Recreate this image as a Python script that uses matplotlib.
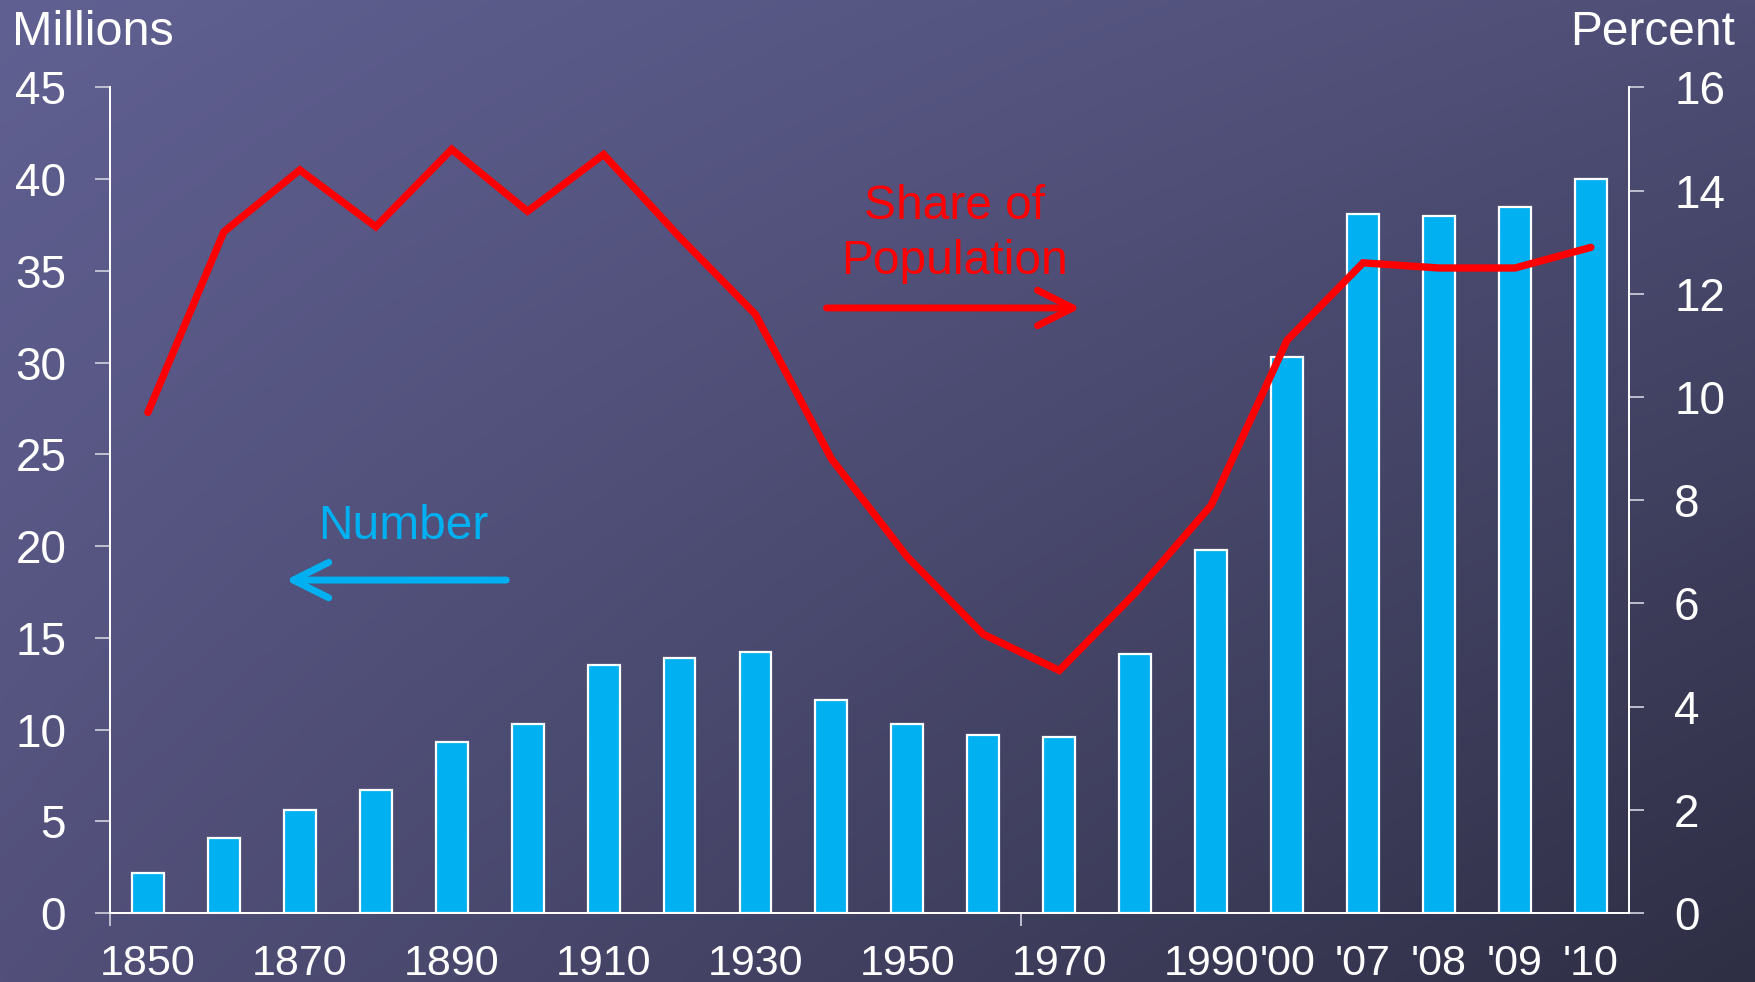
import numpy as np
import matplotlib
matplotlib.use("Agg")
import matplotlib.pyplot as plt
from matplotlib.patches import FancyArrowPatch

plt.rcParams['font.family'] = ['Liberation Sans', 'DejaVu Sans']

# ---- data ----
categories = ["1850", "1860", "1870", "1880", "1890", "1900", "1910", "1920", "1930", "1940",
              "1950", "1960", "1970", "1980", "1990", "'00", "'07", "'08", "'09", "'10"]
number_millions = [2.2, 4.1, 5.6, 6.7, 9.3, 10.3, 13.5, 13.9, 14.2, 11.6,
                   10.3, 9.7, 9.6, 14.1, 19.8, 30.3, 38.1, 38.0, 38.5, 40.0]
share_percent = [9.7, 13.2, 14.4, 13.3, 14.8, 13.6, 14.7, 13.1, 11.6, 8.8,
                 6.9, 5.4, 4.7, 6.2, 7.9, 11.1, 12.6, 12.5, 12.5, 12.9]
shown_labels = {"1850", "1870", "1890", "1910", "1930", "1950", "1970", "1990",
                "'00", "'07", "'08", "'09", "'10"}
left_ticks = [0, 5, 10, 15, 20, 25, 30, 35, 40, 45]
right_ticks = [0, 2, 4, 6, 8, 10, 12, 14, 16]

BLUE = "#00B0F0"
RED = "#FF0000"
TICKC = "#c8c8d8"

fig = plt.figure(figsize=(17.56, 9.82), dpi=100)

# background gradient
bg = fig.add_axes([0, 0, 1, 1], zorder=-10)
h, w = 200, 360
yy, xx = np.mgrid[0:1:h*1j, 0:1:w*1j]
tl = np.array([96, 96, 146]) / 255
tr = np.array([78, 78, 118]) / 255
bl = np.array([82, 80, 122]) / 255
br = np.array([46, 46, 68]) / 255
img = (tl[None, None, :] * ((1 - xx) * (1 - yy))[..., None]
       + tr[None, None, :] * (xx * (1 - yy))[..., None]
       + bl[None, None, :] * ((1 - xx) * yy)[..., None]
       + br[None, None, :] * (xx * yy)[..., None])
bg.imshow(img, aspect='auto', extent=[0, 1, 0, 1], origin='upper')
bg.set_axis_off()

ax = fig.add_axes([0.0626, 0.0703, 0.8650, 0.8407])
ax.set_facecolor('none')
x = np.arange(len(categories))
ax.bar(x, number_millions, width=0.42, color=BLUE, edgecolor='white', linewidth=1.6, zorder=2)
ax.set_xlim(-0.5, len(categories) - 0.5)
ax.set_ylim(0, 45)
ax.set_yticks(left_ticks)
ax.tick_params(axis='y', colors=TICKC, labelcolor='white', labelsize=33, length=10.5, width=1.3, pad=21)
ax.set_xticks(x)
ax.set_xticklabels([c if c in shown_labels else "" for c in categories])
ax.tick_params(axis='x', length=0, labelcolor='white', labelsize=31, pad=22)
ax.set_xticks([-0.5, 11.5], minor=True)
ax.tick_params(axis='x', which='minor', length=9, width=1.3, color=TICKC)
ax.spines['top'].set_visible(False)
for s in ['left', 'bottom', 'right']:
    ax.spines[s].set_color('white')
    ax.spines[s].set_linewidth(1.3)

ax2 = ax.twinx()
ax2.plot(x, share_percent, color=RED, linewidth=5.3, solid_joinstyle='miter',
         solid_capstyle='round', zorder=3)
ax2.set_ylim(0, 16)
ax2.set_yticks(right_ticks)
ax2.tick_params(axis='y', colors=TICKC, labelcolor='white', labelsize=33, length=10.5, width=1.3, pad=22)
ax2.spines['top'].set_visible(False)
for s in ['left', 'bottom', 'right']:
    ax2.spines[s].set_color('white')
    ax2.spines[s].set_linewidth(1.3)

# titles
fig.text(0.007, 0.967, "Millions", color='white', fontsize=35, ha='left', va='center')
fig.text(0.988, 0.967, "Percent", color='white', fontsize=34.5, ha='right', va='center')

# annotations
fig.text(0.5434, 0.7617, "Share of\nPopulation", color=RED, fontsize=34.5, ha='center', va='center',
         linespacing=1.3)
fig.text(0.2296, 0.4640, "Number", color=BLUE, fontsize=34.5, ha='center', va='center')
fig.add_artist(FancyArrowPatch(
    (0.4707, 0.6864), (0.6154, 0.6864), transform=fig.transFigure,
    arrowstyle='->,head_length=1.5,head_width=0.75', color=RED, linewidth=5,
    mutation_scale=17, shrinkA=0, shrinkB=0, capstyle='round', joinstyle='round'))
fig.add_artist(FancyArrowPatch(
    (0.2883, 0.4093), (0.1626, 0.4093), transform=fig.transFigure,
    arrowstyle='->,head_length=1.5,head_width=0.75', color=BLUE, linewidth=5,
    mutation_scale=17, shrinkA=0, shrinkB=0, capstyle='round', joinstyle='round'))

fig.savefig("out.png", dpi=100)
